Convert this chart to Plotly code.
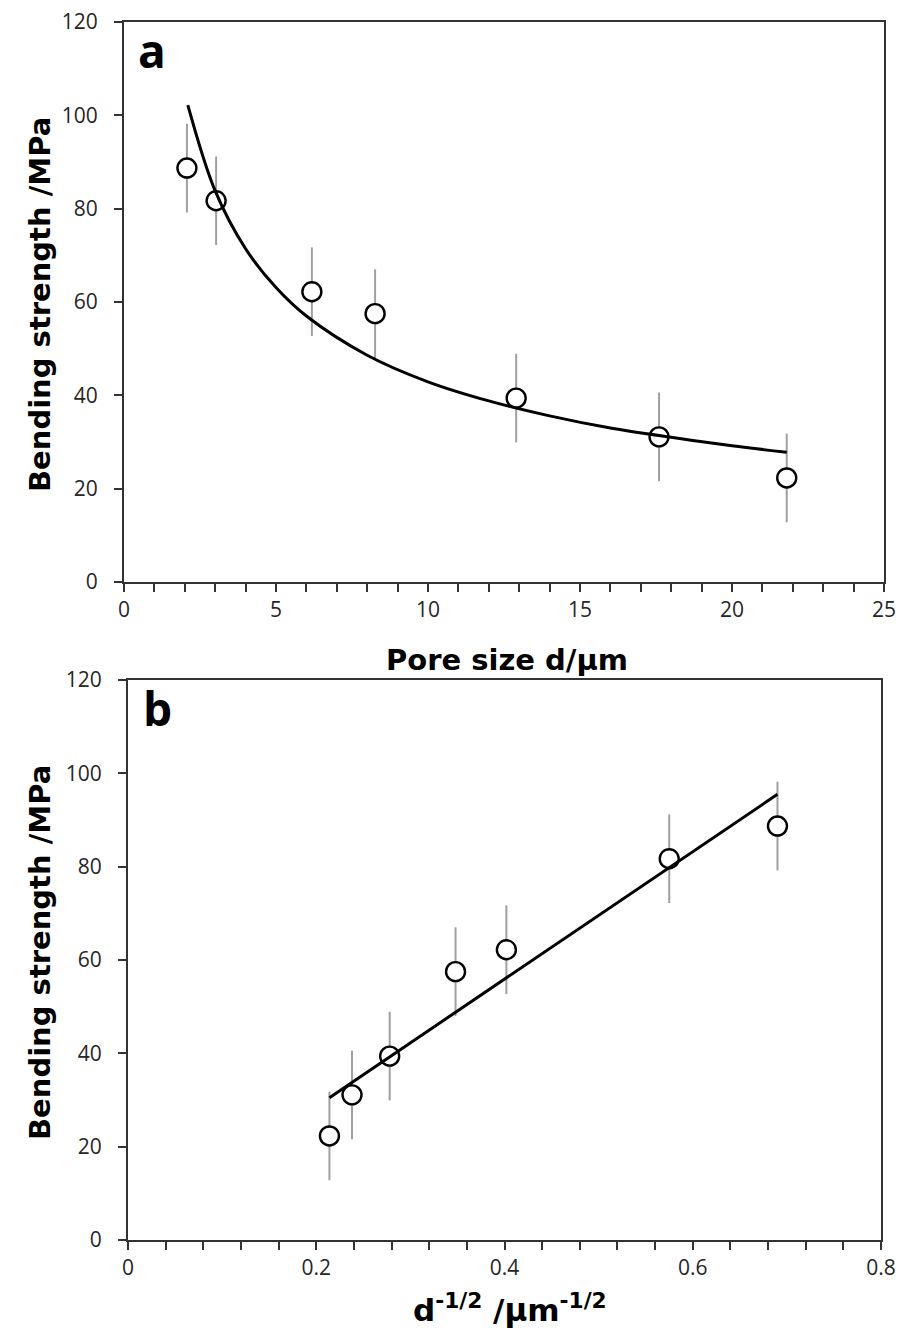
import plotly.graph_objects as go

# ---- data ----
pore_size = [2.07, 3.03, 6.18, 8.26, 12.9, 17.6, 21.8]
strength = [88.7, 81.7, 62.2, 57.5, 39.4, 31.1, 22.3]
strength_err = [9.5, 9.5, 9.5, 9.5, 9.5, 9.5, 9.5]

inv_sqrt_d = [0.690, 0.575, 0.402, 0.348, 0.278, 0.238, 0.214]

# fitted power-law curve in panel a
fit_a_x = [2.1, 3, 4, 5, 6, 8, 10, 12, 14, 16, 18, 20, 21.8]
fit_a_y = [102.2, 83.8, 71.4, 63.1, 57.0, 48.6, 42.9, 38.8, 35.6, 33.0, 31.0, 29.2, 27.8]

# linear fit in panel b (end points)
fit_b_x = [0.214, 0.690]
fit_b_y = [30.5, 95.5]

x_ticks_a = [0, 5, 10, 15, 20, 25]
x_ticks_b = [0, 0.2, 0.4, 0.6, 0.8]
x_ticklabels_b = ["0", "0.2", "0.4", "0.6", "0.8"]
y_ticks = [0, 20, 40, 60, 80, 100, 120]

W, H = 899, 1338
TICKFONT = "Open Sans"
TITLEFONT = "DejaVu Sans"
TICKCOL = "#262626"
AXCOL = "#333333"

fig = go.Figure()

marker = dict(symbol="circle", size=19, color="white", line=dict(color="black", width=2.4))
err = dict(type="data", array=strength_err, visible=True, color="#a0a0a0", thickness=2, width=0)

fig.add_trace(go.Scatter(x=pore_size, y=strength, mode="markers", marker=marker,
                         error_y=err, xaxis="x", yaxis="y", showlegend=False))
fig.add_trace(go.Scatter(x=fit_a_x, y=fit_a_y, mode="lines", line=dict(color="black", width=3, shape="spline"),
                         xaxis="x", yaxis="y", showlegend=False))

fig.add_trace(go.Scatter(x=inv_sqrt_d, y=strength, mode="markers", marker=marker,
                         error_y=err, xaxis="x2", yaxis="y2", showlegend=False))
fig.add_trace(go.Scatter(x=fit_b_x, y=fit_b_y, mode="lines", line=dict(color="black", width=3),
                         xaxis="x2", yaxis="y2", showlegend=False))


def px_x(p):
    return p / W


def px_y(p):
    return 1 - p / H


common_x = dict(showline=True, linecolor=AXCOL, linewidth=2, mirror=True, showgrid=False, zeroline=False,
                automargin=False, ticklabeloverflow="allow",
                ticks="outside", ticklen=8, tickwidth=1.5, tickcolor=AXCOL,
                tickfont=dict(family=TICKFONT, size=21, color=TICKCOL), ticklabelstandoff=0)
common_y = dict(showline=True, linecolor=AXCOL, linewidth=2, mirror=True, showgrid=False, zeroline=False,
                automargin=False, ticklabeloverflow="allow",
                ticks="outside", ticklen=8, tickwidth=1.5, tickcolor=AXCOL,
                tickfont=dict(family=TICKFONT, size=21, color=TICKCOL), ticklabelstandoff=12,
                range=[0, 120], tickvals=y_ticks)

fig.update_layout(
    width=W, height=H,
    margin=dict(l=0, r=0, t=0, b=0, autoexpand=False),
    paper_bgcolor="white", plot_bgcolor="white",
    xaxis=dict(domain=[px_x(124), px_x(884)], anchor="y", range=[0, 25], tickvals=x_ticks_a,
               minor=dict(ticks="outside", ticklen=8, tickwidth=1.5, tickcolor=AXCOL, dtick=1), **common_x),
    yaxis=dict(domain=[px_y(582), px_y(22)], anchor="x", **common_y),
    xaxis2=dict(domain=[px_x(128), px_x(881)], anchor="y2", range=[0, 0.8], tickvals=x_ticks_b,
                ticktext=x_ticklabels_b,
                minor=dict(ticks="outside", ticklen=8, tickwidth=1.5, tickcolor=AXCOL, dtick=0.04), **common_x),
    yaxis2=dict(domain=[px_y(1240), px_y(680)], anchor="x2", **common_y),
)

title_font = dict(family=TITLEFONT, size=29, color="black")
ann = []
ann.append(dict(text="<b>Bending strength /MPa</b>", x=px_x(40), y=px_y(305), xref="paper", yref="paper",
                textangle=-90, showarrow=False, font=title_font, xanchor="center", yanchor="middle"))
ann.append(dict(text="<b>Bending strength /MPa</b>", x=px_x(40), y=px_y(953), xref="paper", yref="paper",
                textangle=-90, showarrow=False, font=title_font, xanchor="center", yanchor="middle"))
ann.append(dict(text="<b>Pore size d/μm</b>", x=px_x(507), y=px_y(660), xref="paper", yref="paper",
                showarrow=False, font=title_font, xanchor="center", yanchor="middle"))
ann.append(dict(text="<b>d<sup>-1/2</sup> /μm<sup>-1/2</sup></b>", x=px_x(510), y=px_y(1308), xref="paper", yref="paper",
                showarrow=False, font=dict(family=TITLEFONT, size=31, color="black"), xanchor="center", yanchor="middle"))
ann.append(dict(text="<b>a</b>", x=px_x(152), y=px_y(50), xref="paper", yref="paper",
                showarrow=False, font=dict(family="Open Sans", size=46, color="black"), xanchor="center", yanchor="middle"))
ann.append(dict(text="<b>b</b>", x=px_x(157), y=px_y(708), xref="paper", yref="paper",
                showarrow=False, font=dict(family="Open Sans", size=46, color="black"), xanchor="center", yanchor="middle"))
fig.update_layout(annotations=ann)

fig.write_html("out.html", config={"displayModeBar": False},
               post_script="document.body.style.margin='0';document.body.style.overflow='hidden';")
